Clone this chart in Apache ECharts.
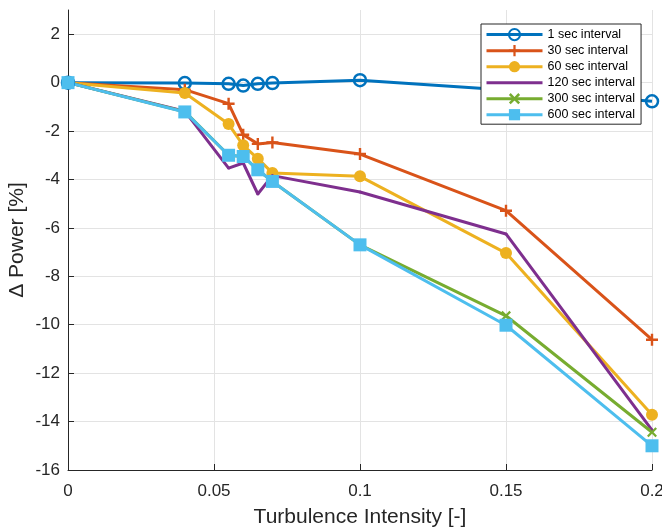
<!DOCTYPE html>
<html>
<head>
<meta charset="utf-8">
<script src="https://cdn.jsdelivr.net/npm/echarts@6/dist/echarts.min.js"></script>
<style>
  html, body { margin: 0; padding: 0; background: #fff; }
  #chart { width: 662px; height: 529px; }
</style>
</head>
<body>
<div id="chart"></div>
<script>
// Turbulence intensity values shared by all series
const turbulence = [0, 0.04, 0.055, 0.06, 0.065, 0.07, 0.1, 0.15, 0.2];

// Change in power [%] for each averaging interval
const sec1   = [0, -0.02, -0.05, -0.12, -0.05, -0.02, 0.1, -0.3, -0.77];
const sec30  = [0, -0.29, -0.87, -2.15, -2.53, -2.47, -2.95, -5.29, -10.62];
const sec60  = [0, -0.43, -1.71, -2.59, -3.14, -3.73, -3.87, -7.04, -13.72];
const sec120 = [0, -1.18, -3.53, -3.32, -4.6, -3.84, -4.52, -6.25, -14.35];
const sec300 = [0, -1.2, -3.0, -3.05, -3.6, -4.08, -6.7, -9.63, -14.44];
const sec600 = [0, -1.21, -3.0, -3.05, -3.6, -4.08, -6.7, -10.02, -15.0];

const seriesNames = ['1 sec interval', '30 sec interval', '60 sec interval',
                     '120 sec interval', '300 sec interval', '600 sec interval'];

// Axis tick values
const xTicks = [0, 0.05, 0.1, 0.15, 0.2];
const yTicks = [-16, -14, -12, -10, -8, -6, -4, -2, 0, 2];

const FONT = '"Liberation Sans", Arial, Helvetica, sans-serif';
const TEXT = '#262626';
const GRIDC = '#e3e3e3';
const plusPath = 'path://M0,4H4V0H6V4H10V6H6V10H4V6H0Z';
const crossPath = 'path://M0,1.6L1.6,0L5,3.4L8.4,0L10,1.6L6.6,5L10,8.4L8.4,10L5,6.6L1.6,10L0,8.4L3.4,5Z';

function pairs(ys) { return turbulence.map((x, i) => [x, ys[i]]); }

function lineSeries(name, ys, color, symbol, size, extra) {
  return Object.assign({
    name: name,
    type: 'line',
    data: pairs(ys),
    symbol: symbol,
    symbolSize: size,
    showSymbol: true,
    clip: false,
    lineStyle: { color: color, width: 3 },
    itemStyle: { color: color },
    emphasis: { disabled: true },
    animation: false
  }, extra || {});
}

const chart = echarts.init(document.getElementById('chart'), null, { renderer: 'canvas' });

chart.setOption({
  backgroundColor: '#ffffff',
  textStyle: { fontFamily: FONT },
  grid: { left: 68, right: 10, top: 10, bottom: 59, containLabel: false, outerBoundsMode: 'none' },
  legend: {
    orient: 'vertical',
    left: 481,
    top: 24,
    width: 157,
    padding: [4, 6, 3, 4],
    itemWidth: 56,
    itemHeight: 14,
    itemGap: 3,
    backgroundColor: '#ffffff',
    borderColor: '#262626',
    borderWidth: 1,
    borderRadius: 0,
    lineStyle: { width: 3 },
    textStyle: { fontFamily: FONT, fontSize: 12.5, color: '#000' },
    data: [
      seriesNames[0], seriesNames[1], seriesNames[2],
      { name: seriesNames[3], itemStyle: { opacity: 0 } },
      seriesNames[4], seriesNames[5]
    ]
  },
  xAxis: {
    type: 'value',
    min: 0,
    max: 0.2,
    interval: 0.05,
    name: 'Turbulence Intensity [-]',
    nameLocation: 'middle',
    nameGap: 37,
    nameMoveOverlap: false,
    nameTextStyle: { fontFamily: FONT, fontSize: 21, color: TEXT },
    axisLine: { show: true, onZero: false, lineStyle: { color: TEXT, width: 1 } },
    axisTick: { show: true, inside: true, length: 6, lineStyle: { color: TEXT } },
    axisLabel: {
      fontFamily: FONT, fontSize: 17, color: TEXT, margin: 13,
      customValues: xTicks,
      formatter: v => String(+v.toFixed(2))
    },
    splitLine: { show: true, lineStyle: { color: GRIDC, width: 1 } }
  },
  yAxis: {
    type: 'value',
    min: -16,
    max: 3,
    interval: 2,
    name: '\u0394 Power [%]',
    nameLocation: 'middle',
    nameGap: 40,
    nameMoveOverlap: false,
    nameRotate: 90,
    nameTextStyle: { fontFamily: FONT, fontSize: 21, color: TEXT },
    axisLine: { show: true, onZero: false, lineStyle: { color: TEXT, width: 1 } },
    axisTick: { show: true, inside: true, length: 6, customValues: yTicks, lineStyle: { color: TEXT } },
    axisLabel: { fontFamily: FONT, fontSize: 17, color: TEXT, margin: 8, customValues: yTicks },
    splitLine: { show: true, lineStyle: { color: GRIDC, width: 1 } }
  },
  series: [
    lineSeries(seriesNames[0], sec1, '#0072BD', 'circle', 12, {
      itemStyle: { color: 'rgba(255,255,255,0)', borderColor: '#0072BD', borderWidth: 2.5 }
    }),
    lineSeries(seriesNames[1], sec30, '#D95319', plusPath, 12),
    lineSeries(seriesNames[2], sec60, '#EDB120', 'circle', 12),
    lineSeries(seriesNames[3], sec120, '#7E2F8E', 'circle', 3),
    lineSeries(seriesNames[4], sec300, '#77AC30', crossPath, 10),
    lineSeries(seriesNames[5], sec600, '#4DBEEE', 'rect', 13)
  ]
});
</script>
</body>
</html>
